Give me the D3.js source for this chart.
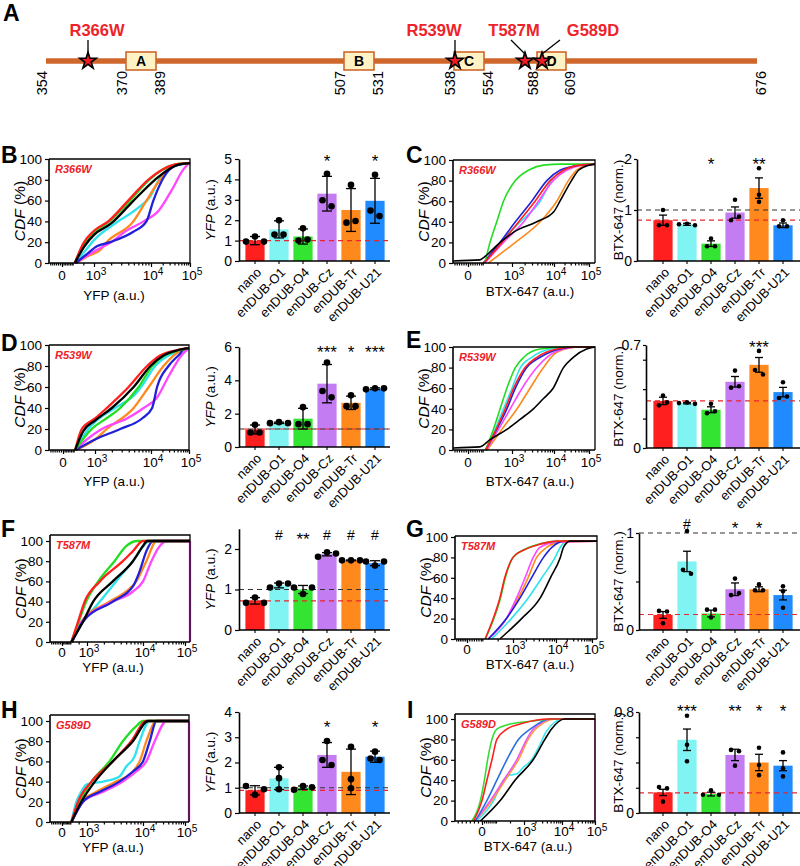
<!DOCTYPE html>
<html lang="en">
<head>
<meta charset="UTF-8">
<title>enDUB rescue of KCNQ1 LQT mutants</title>
<script src="https://d3js.org/d3.v7.min.js"></script>
<style>
  body { margin: 0; background: #fff; }
</style>
</head>
<body>
<svg id="fig" width="800" height="866"></svg>
<script>
  // ---------- data ----------
  var categories = ['nano', 'enDUB-O1', 'enDUB-O4', 'enDUB-Cz', 'enDUB-Tr', 'enDUB-U21'];
  var barColors = ['#ff1f1f', '#80f3f3', '#33e433', '#c47cf2', '#ff891c', '#1f8bff'];
  // CDF curve order: nano, O1, O4, Cz, Tr, U21, control
  var curveColors = ['#ff1f1f', '#2fe3ee', '#22dd22', '#ff47ff', '#ff891c', '#2020d8', '#000000'];
  var curveColorsI = ['#ff1f1f', '#3fe6ee', '#33dd33', '#ee55ee', '#ff9a3c', '#2a70e0', '#000000'];
  var drawOrder = [1, 4, 3, 5, 2, 0, 6];

  // panel A: KCNQ1 C-terminus schematic
  var chainEnds = [354, 676];
  var domainNames = ['A', 'B', 'C', 'D'];
  var domainStart = [370, 507, 538, 588];
  var domainEnd = [389, 531, 554, 609];
  var mutations = ['R366W', 'R539W', 'T587M', 'G589D'];
  var mutationSites = [366, 539, 587, 589];

  // CDF curves, x in decades (0 = zero, 3 = 10^3 ...), y in %
  var cdfB = [
    [[1.2,0],[2.0,19],[3.0,31],[3.25,40],[3.6,60],[3.95,80],[4.3,90],[4.66,95],[5,96]],
    [[1.2,0],[2.2,12],[3.0,22],[3.37,38],[3.75,52],[4.0,65],[4.2,80],[4.55,93],[5,96]],
    [[1.2,0],[2.0,17],[3.0,29],[3.27,40],[3.6,58],[3.95,79],[4.3,90],[4.66,95],[5,96]],
    [[1.3,0],[2.5,8],[3.1,14],[3.3,20],[3.54,30],[3.87,40],[4.19,50],[4.53,70],[4.83,90],[5,97]],
    [[1.3,0],[2.5,7],[3.1,12],[3.22,20],[3.69,40],[3.92,60],[4.23,80],[4.66,95],[5,96]],
    [[1.3,0],[2.5,10],[3.05,16],[3.28,20],[3.69,30],[3.92,40],[4.06,60],[4.32,82],[4.6,93],[5,96]],
    [[1.2,0],[2.1,16],[3.0,27],[3.3,38],[3.66,58],[4.1,80],[4.45,90],[4.75,95],[5,96]]
  ];
  var cdfD = [
    [[1.14,0],[1.76,20],[3,30],[3.21,40],[3.6,60],[3.93,80],[4.24,90],[4.67,95],[5,97]],
    [[1.14,0],[2.38,20],[3.15,33],[3.36,40],[3.75,55],[3.85,62],[4.11,80],[4.46,90],[4.8,95],[5,97]],
    [[1.14,0],[2.69,20],[3.2,30],[3.45,40],[3.78,60],[4.03,80],[4.35,90],[4.75,95],[5,97]],
    [[1.2,0],[2.23,10],[3.12,20],[3.57,30],[3.87,40],[4.16,50],[4.46,70],[4.8,90],[5,97]],
    [[1.2,0],[3,10],[3.21,20],[3.69,40],[3.96,60],[4.33,80],[4.8,95],[5,97]],
    [[1.2,0],[3,10],[3.45,20],[3.84,30],[4.03,40],[4.16,60],[4.46,80],[4.72,90],[4.93,97],[5,97]],
    [[1.14,0],[1.9,18],[3,28],[3.3,40],[3.69,60],[3.99,80],[4.33,90],[4.7,95],[5,97]]
  ];
  var cdfF = [
    [[1.12,0],[1.92,20],[2.72,40],[3.23,60],[3.64,80],[3.82,90],[4.0,100],[5.12,100]],
    [[1.12,0],[2.52,20],[3.23,40],[3.52,60],[3.82,80],[4.16,100],[5.12,100]],
    [[1.12,0],[1.92,18],[2.9,40],[3.2,60],[3.49,80],[3.7,95],[3.9,100],[5.12,100]],
    [[1.2,0],[2.32,20],[3.11,30],[3.46,40],[3.82,50],[4.0,60],[4.2,80],[4.4,95],[4.56,100],[5.12,100],[5.12,0]],
    [[1.2,0],[2.32,20],[3.4,40],[3.7,50],[3.88,60],[4.08,80],[4.32,100],[5.12,100]],
    [[1.2,0],[2.5,20],[3.46,40],[3.82,55],[3.94,70],[4.08,90],[4.24,100],[5.12,100]],
    [[1.12,0],[2.52,20],[3.11,40],[3.46,60],[3.82,80],[4.0,95],[4.1,100],[5.12,100]]
  ];
  var cdfH = [
    [[1.12,0],[1.92,20],[3.08,40],[3.46,60],[3.79,80],[4.08,100],[5.12,100]],
    [[1.12,0],[1.72,20],[2.32,30],[2.92,37],[3.29,40],[3.58,45],[3.7,55],[3.85,65],[3.94,80],[4.16,100],[5.12,100]],
    [[1.12,0],[2.12,20],[3.08,40],[3.4,60],[3.64,80],[3.88,95],[4.0,100],[5.12,100]],
    [[1.15,0],[2.52,20],[3.29,30],[3.64,40],[3.88,50],[4.08,60],[4.28,80],[4.56,100],[5.12,100],[5.12,0]],
    [[1.15,0],[2.32,20],[3.17,30],[3.52,40],[3.82,50],[3.94,60],[4.08,80],[4.32,100],[5.12,100]],
    [[1.15,0],[2.52,20],[3.23,30],[3.58,40],[3.82,50],[4.0,60],[4.16,80],[4.32,100],[5.12,100]],
    [[1.12,0],[2.32,20],[3.14,40],[3.46,60],[3.82,80],[4.12,100],[5.12,100]]
  ];
  var cdfC = [
    [[1.1,0],[2.31,20],[3.16,40],[3.55,60],[3.91,80],[4.27,90],[4.74,95],[5.17,96]],
    [[1.1,0],[2.19,20],[3.2,40],[3.67,60],[3.94,80],[4.27,90],[4.74,95],[5.17,96]],
    [[1.15,0],[1.5,20],[1.96,40],[2.42,60],[3.08,80],[3.39,90],[3.75,95],[4.2,96],[5.17,96]],
    [[1.15,0],[2.42,20],[3.28,40],[3.63,60],[3.98,80],[4.36,90],[4.8,95],[5.17,96]],
    [[1.38,0],[3.08,20],[3.67,40],[4.08,60],[4.41,80],[4.64,90],[4.93,95],[5.17,96]],
    [[1.04,0],[2.19,20],[3.08,40],[3.47,60],[3.83,80],[4.17,90],[4.74,95],[5.17,96]],
    [[-1,2],[0.81,3],[1.04,5],[2.19,20],[3.04,30],[3.59,40],[4.0,50],[4.17,60],[4.5,80],[4.7,90],[5.0,95],[5.17,96]]
  ];
  var cdfE = [
    [[1.2,0],[1.92,20],[2.54,40],[3.04,60],[3.31,80],[3.59,90],[4.08,98],[4.6,100],[5.17,100]],
    [[1.2,0],[1.85,20],[2.42,40],[3.0,60],[3.2,80],[3.47,90],[3.91,98],[4.5,100],[5.17,100]],
    [[1.2,0],[1.73,20],[2.19,40],[2.65,60],[3.08,80],[3.28,90],[3.67,98],[4.36,100],[5.17,100]],
    [[1.25,0],[2.08,20],[2.88,40],[3.24,60],[3.59,80],[3.83,90],[4.27,98],[4.7,100],[5.17,100]],
    [[1.3,0],[2.31,20],[3.12,40],[3.43,60],[3.75,80],[4.08,95],[4.74,100],[5.17,100]],
    [[1.2,0],[1.96,20],[2.65,40],[3.08,60],[3.35,80],[3.67,90],[4.17,98],[4.6,100],[5.17,100]],
    [[-1,2],[0.81,3],[1.5,10],[2.65,20],[3.2,30],[3.51,40],[3.75,50],[3.98,60],[4.27,80],[4.55,90],[4.93,98],[5.17,100]]
  ];
  var cdfG = [
    [[1.18,0],[1.71,20],[2.14,40],[2.46,60],[3.0,80],[3.24,87],[3.63,93],[4.03,96],[5.14,96]],
    [[1.61,0],[2.89,20],[3.35,40],[3.67,60],[3.98,80],[4.12,90],[4.3,96],[5.14,96]],
    [[1.2,0],[1.75,20],[2.18,40],[2.5,60],[3.0,80],[3.28,88],[3.7,94],[4.1,96],[5.14,96]],
    [[1.39,0],[2.57,20],[3.08,40],[3.28,60],[3.47,80],[3.63,90],[4.03,95],[5.14,96]],
    [[1.39,0],[2.57,20],[3.12,40],[3.35,60],[3.55,80],[3.79,90],[4.12,95],[5.14,96]],
    [[1.39,0],[2.57,20],[3.16,40],[3.43,60],[3.71,80],[3.91,90],[4.21,96],[5.14,96]],
    [[2.14,0],[3.2,20],[3.63,40],[3.87,60],[4.12,80],[4.21,90],[4.39,96],[5.14,96]]
  ];
  var cdfI = [
    [[-0.31,0],[0,20],[0.35,40],[0.71,60],[1.06,80],[1.77,90],[2.72,95],[3.68,100],[5,100]],
    [[-0.19,0],[0.83,20],[1.54,40],[2.0,45],[2.48,46],[2.9,52],[3.2,60],[3.42,75],[3.59,88],[4.03,100],[5,100]],
    [[-0.375,0],[-0.06,20],[0.17,40],[0.4,60],[0.71,80],[1.06,90],[2.0,95],[3.24,98],[3.77,100],[5,100]],
    [[-0.25,0],[0.59,20],[1.54,40],[2.48,60],[3.07,80],[3.24,90],[3.77,100],[5,100],[5,0]],
    [[-0.25,0],[0.71,20],[1.65,40],[2.6,60],[3.11,80],[3.3,90],[3.85,100],[5,100]],
    [[-0.25,0],[0.35,20],[1.06,40],[1.77,60],[2.6,80],[3.16,90],[3.68,100],[5,100]],
    [[-0.06,0],[1.3,20],[2.36,40],[3.24,60],[3.55,80],[3.72,90],[4.08,100],[5,100]]
  ];

  // bar charts: mean, error, replicate points, significance
  var meanB = [1.0, 1.55, 1.2, 3.3, 2.5, 2.95];
  var errB = [0.2, 0.42, 0.37, 0.85, 1.05, 1.1];
  var dotsB = [[0.95,1.2,0.95],[1.3,2.0,1.3],[1.0,1.6,1.05],[4.28,2.98,2.68],[1.88,3.73,1.96],[4.23,2.47,2.2]];
  var sigB = ['', '', '', '*', '', '*'];

  var meanD = [1.05, 1.45, 1.7, 3.8, 2.65, 3.5];
  var errD = [0.27, 0.04, 0.62, 1.15, 0.4, 0.05];
  var dotsD = [[0.87,1.33,0.87],[1.43,1.49,1.43],[1.37,2.39,1.37],[5.07,3.36,2.98],[2.45,3.1,2.45],[3.46,3.52,3.52]];
  var sigD = ['', '', '', '***', '*', '***'];

  var meanF = [0.72, 1.1, 1.0, 1.87, 1.72, 1.65];
  var errF = [0.08, 0.06, 0.1, 0.04, 0.01, 0.06];
  var dotsF = [[0.67,0.8,0.67],[1.05,1.15,1.15],[1.05,0.89,1.05],[1.81,1.92,1.89],[1.72,1.72,1.72],[1.69,1.59,1.69]];
  var sigF = ['', '#', '**', '#', '#', '#'];

  var meanH = [0.9, 1.37, 1.0, 2.3, 1.63, 2.23];
  var errH = [0.18, 0.44, 0.07, 0.49, 0.9, 0.22];
  var dotsH = [[1.07,0.72,0.94],[0.94,1.38,1.81],[0.92,1.07,1.02],[2.85,2.1,1.9],[2.62,1.34,0.98],[2.16,2.43,2.1]];
  var sigH = ['', '', '', '*', '', '*'];

  var meanC = [0.8, 0.72, 0.34, 0.95, 1.43, 0.7];
  var errC = [0.1, 0.02, 0.055, 0.11, 0.2, 0.045];
  var dotsC = [[0.7,1.0,0.7],[0.72,0.73,0.7],[0.29,0.44,0.29],[0.8,1.2,0.87],[1.82,1.3,1.16],[0.68,0.8,0.68]];
  var sigC = ['', '', '*', '', '**', ''];

  var meanE = [0.32, 0.305, 0.26, 0.45, 0.565, 0.38];
  var errE = [0.025, 0.005, 0.02, 0.036, 0.05, 0.032];
  var dotsE = [[0.357,0.29,0.31],[0.305,0.31,0.30],[0.237,0.30,0.25],[0.41,0.526,0.42],[0.66,0.53,0.50],[0.34,0.447,0.35]];
  var sigE = ['', '', '', '', '***', ''];

  var meanG = [0.155, 0.707, 0.17, 0.42, 0.42, 0.36];
  var errG = [0.035, 0.105, 0.035, 0.065, 0.025, 0.05];
  var dotsG = [[0.197,0.07,0.19],[1.02,0.62,0.58],[0.21,0.13,0.21],[0.36,0.53,0.38],[0.41,0.47,0.41],[0.45,0.40,0.23]];
  var sigG = ['', '#', '', '*', '*', ''];

  var meanI = [0.163, 0.58, 0.15, 0.46, 0.40, 0.375];
  var errI = [0.025, 0.085, 0.015, 0.045, 0.065, 0.04];
  var dotsI = [[0.205,0.09,0.195],[0.77,0.54,0.41],[0.145,0.18,0.145],[0.5,0.375,0.49],[0.517,0.38,0.30],[0.48,0.354,0.29]];
  var sigI = ['', '***', '', '**', '*', '*'];

  // dashed reference levels (control = black, nano = red)
  var ctrlLevel = {B: null, D: 1.08, F: 1.0, H: 1.0, C: 1.0, E: null, G: 1.0, I: null};
  var nanoLevel = {B: 1.0, D: 1.08, F: 0.72, H: 0.9, C: 0.8, E: 0.32, G: 0.16, I: 0.16};

  // ---------- drawing ----------
  var FONT = '"Liberation Sans", Arial, Helvetica, sans-serif';
  var svg = d3.select('#fig').attr('font-family', FONT);

  function styleAxis(g, size) {
    g.attr('font-family', FONT).attr('font-size', size);
    g.select('.domain').attr('stroke-width', 1.6);
    g.selectAll('.tick line').attr('stroke-width', 1.2);
    g.selectAll('.tick text').attr('fill', '#000');
  }

  function panelLetter(t, x, y) {
    svg.append('text').attr('x', x).attr('y', y)
      .attr('font-size', 23).attr('font-weight', 'bold').text(t);
  }

  // --- panel A ---
  var resX = d3.scaleLinear()
    .domain([354, 366, 370, 389, 507, 531, 538, 539, 554, 587, 588, 589, 609, 676])
    .range([46, 88, 126, 156, 344, 374, 454, 455, 484, 525, 537, 542, 566, 757]);
  var gA = svg.append('g');
  var rust = '#cf672c';
  gA.append('line')
    .attr('x1', resX(chainEnds[0])).attr('x2', resX(chainEnds[1]))
    .attr('y1', 61).attr('y2', 61)
    .attr('stroke', rust).attr('stroke-width', 5.5);
  domainNames.forEach(function (n, i) {
    var x0 = resX(domainStart[i]), x1 = resX(domainEnd[i]);
    gA.append('rect').attr('x', x0).attr('y', 52).attr('width', x1 - x0).attr('height', 18)
      .attr('fill', '#fff3c6').attr('stroke', rust).attr('stroke-width', 1.6);
    gA.append('text').attr('x', (x0 + x1) / 2).attr('y', 61).attr('dy', '0.36em')
      .attr('text-anchor', 'middle').attr('font-size', 14).attr('font-weight', 'bold').text(n);
  });
  var labelDx = [9, -21, -11, 51];
  var tipDx = [0, 0, -14, 18];
  var star = d3.symbol().type(d3.symbolStar).size(85);
  mutations.forEach(function (m, i) {
    var sx = resX(mutationSites[i]);
    gA.append('line').attr('x1', sx + tipDx[i]).attr('y1', 40).attr('x2', sx).attr('y2', 54)
      .attr('stroke', '#000').attr('stroke-width', 1.3);
    gA.append('path').attr('d', star).attr('transform', 'translate(' + sx + ',61)')
      .attr('fill', '#ee1c24').attr('stroke', '#000').attr('stroke-width', 1.6);
    gA.append('text').attr('x', sx + labelDx[i]).attr('y', 36).attr('text-anchor', 'middle')
      .attr('font-size', 16.5).attr('font-weight', 'bold').attr('fill', '#ee2229').text(m);
  });
  var tickRes = chainEnds.concat(domainStart, domainEnd).sort(d3.ascending);
  tickRes.forEach(function (r) {
    var isStart = r === chainEnds[0] || domainStart.indexOf(r) >= 0;
    var lx = resX(r) + (isStart ? -4 : 4);
    gA.append('text').attr('transform', 'translate(' + lx + ',71) rotate(-90)')
      .attr('dy', '0.36em').attr('text-anchor', 'end').attr('font-size', 14.5).text(r);
  });
  panelLetter('A', 3, 21);

  // --- CDF panels ---
  function drawCdf(L, curves, colors, mutation, xTitle) {
    var x = d3.scaleLinear().domain(L.xu).range(L.xp).clamp(true);
    var y = d3.scaleLinear().domain([0, 100]).range([L.y0, L.y100]);
    var left = L.xp[0], right = L.xp[L.xp.length - 1];
    var g = svg.append('g');
    var line = d3.line().x(function (d) { return x(d[0]); }).y(function (d) { return y(d[1]); })
      .curve(d3.curveMonotoneX);
    var straight = d3.line().x(function (d) { return x(d[0]); }).y(function (d) { return y(d[1]); });

    drawOrder.forEach(function (i) {
      var pts = curves[i], n = pts.length, tail = null;
      if (pts[n - 1][0] === pts[n - 2][0]) { tail = pts.slice(n - 2); pts = pts.slice(0, n - 1); }
      g.append('path').datum(pts).attr('d', line).attr('fill', 'none')
        .attr('stroke', colors[i]).attr('stroke-width', L.lw).attr('stroke-linejoin', 'round');
      if (tail) {
        g.append('path').datum(tail).attr('d', straight).attr('fill', 'none')
          .attr('stroke', colors[i]).attr('stroke-width', L.lw);
      }
    });

    // frame
    g.append('path')
      .attr('d', 'M' + left + ',' + L.top + 'H' + right + 'V' + L.y0)
      .attr('fill', 'none').attr('stroke', '#000').attr('stroke-width', 1.3);

    g.append('g').attr('transform', 'translate(' + left + ',0)')
      .call(d3.axisLeft(y).tickValues([0, 20, 40, 60, 80, 100]).tickSize(4).tickSizeOuter(0).tickPadding(3))
      .call(styleAxis, 13.5)
      .select('.domain').attr('d', 'M0,' + L.y0 + 'V' + L.top);

    var minor = [];
    for (var u = -0.9; u <= 0.95; u += 0.15) minor.push(u);
    [1, 2].forEach(function (d) { minor.push(d); });
    [3, 4].forEach(function (d) {
      for (var k = 2; k <= 9; k++) minor.push(d + Math.log10(k));
    });
    var gx = g.append('g').attr('transform', 'translate(0,' + L.y0 + ')');
    gx.append('g')
      .call(d3.axisBottom(x).tickValues(minor).tickSize(2.5).tickSizeOuter(0).tickFormat(''))
      .call(styleAxis, 13).select('.domain').remove();
    gx.append('g')
      .call(d3.axisBottom(x).tickValues([0, 3, 4, 5]).tickSize(4).tickSizeOuter(0).tickFormat(''))
      .call(styleAxis, 13)
      .select('.domain').attr('d', 'M' + left + ',0H' + right);

    [0, 3, 4, 5].forEach(function (v) {
      var t = g.append('text').attr('x', x(v) + (v ? 2 : 0)).attr('y', L.y0 + L.tickDy)
        .attr('text-anchor', 'middle').attr('font-size', 13.5);
      if (v === 0) { t.text('0'); return; }
      t.append('tspan').text('10');
      t.append('tspan').attr('dy', '-0.45em').attr('font-size', '0.75em').text(v);
    });

    g.append('text').attr('x', L.titleX).attr('y', L.y0 + L.titleDy)
      .attr('text-anchor', 'middle').attr('font-size', 13.5).text(xTitle);

    var yt = g.append('text')
      .attr('transform', 'translate(' + (left - 30) + ',' + ((L.y0 + L.top) / 2) + ') rotate(-90)')
      .attr('text-anchor', 'middle').attr('dy', '0.36em').attr('font-size', 15.5);
    yt.append('tspan').attr('font-style', 'italic').text('CDF');
    yt.append('tspan').text(' (%)');

    g.append('text').attr('x', left + 6).attr('y', L.top + 14)
      .attr('font-size', 11).attr('font-weight', 'bold').attr('font-style', 'italic')
      .attr('fill', '#ee2229').text(mutation);
  }

  // --- bar panels ---
  function spread(vals, y, r, s) {
    // fan out replicate points that would touch, like a small beeswarm
    var idx = vals.map(function (v, i) { return i; }).sort(function (a, b) { return vals[a] - vals[b]; });
    var groups = [], cur = [idx[0]];
    for (var k = 1; k < idx.length; k++) {
      if (Math.abs(y(vals[idx[k]]) - y(vals[idx[k - 1]])) < 2 * r) cur.push(idx[k]);
      else { groups.push(cur); cur = [idx[k]]; }
    }
    groups.push(cur);
    var off = vals.map(function () { return 0; });
    groups.forEach(function (gp) {
      gp.sort(d3.ascending).forEach(function (i, j) { off[i] = (j - (gp.length - 1) / 2) * s; });
    });
    return off;
  }

  function drawBars(L, mean, err, dots, sig, ctrl, nano, titleItalic, titleRest) {
    var x = d3.scalePoint().domain(categories).range([L.x0, L.x1]);
    var y = d3.scaleLinear().domain([0, L.yMax]).range(L.yr);
    var bw = x.step() * 0.8;
    var g = svg.append('g');

    g.selectAll('rect').data(mean).join('rect')
      .attr('x', function (d, i) { return x(categories[i]) - bw / 2; })
      .attr('y', function (d) { return y(d); })
      .attr('width', bw)
      .attr('height', function (d) { return y(0) - y(d); })
      .attr('fill', function (d, i) { return barColors[i]; });

    if (ctrl !== null) {
      g.append('line').attr('x1', L.axisX).attr('x2', L.right).attr('y1', y(ctrl)).attr('y2', y(ctrl))
        .attr('stroke', '#333').attr('stroke-width', 1.2).attr('stroke-dasharray', '5,4');
    }
    if (nano !== null) {
      g.append('line').attr('x1', L.axisX).attr('x2', L.right).attr('y1', y(nano)).attr('y2', y(nano))
        .attr('stroke', '#e8262b').attr('stroke-width', 1.2).attr('stroke-dasharray', '5,4')
        .attr('stroke-dashoffset', ctrl === nano ? 4.5 : 0);
    }

    mean.forEach(function (m, i) {
      var cx = x(categories[i]), e = err[i], hc = L.cap / 2;
      var eg = g.append('g').attr('stroke', '#000').attr('stroke-width', 1.3);
      eg.append('line').attr('x1', cx).attr('x2', cx).attr('y1', y(m - e)).attr('y2', y(m + e));
      eg.append('line').attr('x1', cx - hc).attr('x2', cx + hc).attr('y1', y(m + e)).attr('y2', y(m + e));
      eg.append('line').attr('x1', cx - hc).attr('x2', cx + hc).attr('y1', y(m - e)).attr('y2', y(m - e));
      var off = spread(dots[i], y, L.r, L.spread);
      dots[i].forEach(function (v, j) {
        g.append('circle').attr('cx', cx + off[j]).attr('cy', y(v)).attr('r', L.r).attr('fill', '#000');
      });
      if (sig[i]) {
        g.append('text').attr('x', cx).attr('y', y(L.sigAt))
          .attr('dy', sig[i].charAt(0) === '#' ? '0.36em' : '0.6em')
          .attr('text-anchor', 'middle').attr('font-size', sig[i].charAt(0) === '#' ? 14 : 17)
          .text(sig[i]);
      }
    });

    g.append('g').attr('transform', 'translate(' + L.axisX + ',0)')
      .call(d3.axisLeft(y).tickValues(L.ticks).tickSize(L.tick).tickSizeOuter(0).tickPadding(L.pad)
        .tickFormat(function (v) { return L.labels.indexOf(v) >= 0 ? d3.format('~g')(v) : ''; }))
      .call(styleAxis, 14);

    var xa = g.append('g');
    xa.append('line').attr('x1', L.axisX).attr('x2', L.right).attr('y1', y(0)).attr('y2', y(0))
      .attr('stroke', '#000').attr('stroke-width', 1.6);
    categories.forEach(function (c) {
      xa.append('line').attr('x1', x(c)).attr('x2', x(c)).attr('y1', y(0)).attr('y2', y(0) + 3)
        .attr('stroke', '#000').attr('stroke-width', 1.1);
      xa.append('text')
        .attr('transform', 'translate(' + (x(c) + 4) + ',' + (y(0) + 9) + ') rotate(-45)')
        .attr('text-anchor', 'end').attr('dy', '0.35em').attr('font-size', 13).text(c);
    });

    var mid = (L.yr[0] + L.yr[1]) / 2;
    var t = g.append('text').attr('transform', 'translate(' + L.titleX + ',' + mid + ') rotate(-90)')
      .attr('text-anchor', 'middle').attr('dy', '0.36em').attr('font-size', 13.5);
    if (titleItalic) t.append('tspan').attr('font-style', 'italic').text(titleItalic);
    t.append('tspan').text(titleRest);
  }

  // layouts
  var leftBar = {axisX: 239, x0: 255, x1: 375, right: 390, cap: 10, r: 3.3, spread: 9, titleX: 210, tick: 4, pad: 3};
  var rightBar = {axisX: 637, x0: 663, x1: 783, right: 800, cap: 8, r: 2.3, spread: 8, titleX: 618, tick: 3, pad: 2};
  function lay(base, extra) { return Object.assign({}, base, extra); }

  var xLeftA = {xu: [-1, 0, 3, 4, 5], xp: [49, 62, 94, 151, 190], titleX: 114, lw: 2.3, tickDy: 17};
  var xLeftB = {xu: [-1, 0, 3, 4, 5, 5.12], xp: [50, 62, 87, 143, 185, 190], titleX: 113, lw: 2.3, tickDy: 15};
  var xRightA = {xu: [-1, 0, 3, 4, 5, 5.17], xp: [453, 468, 512, 554, 589, 595], titleX: 530, lw: 1.6, tickDy: 17};

  drawCdf(lay(xLeftA, {top: 159, y100: 159, y0: 263, titleDy: 37}), cdfB, curveColors, 'R366W', 'YFP (a.u.)');
  drawCdf(lay(xLeftA, {xp: [49, 63, 95, 151, 189], top: 345, y100: 345, y0: 450, titleDy: 36}), cdfD, curveColors, 'R539W', 'YFP (a.u.)');
  drawCdf(lay(xLeftB, {top: 535, y100: 541, y0: 642, titleDy: 30}), cdfF, curveColors, 'T587M', 'YFP (a.u.)');
  drawCdf(lay(xLeftB, {xp: [50, 62, 87, 143, 185, 189], top: 715, y100: 721, y0: 822, titleDy: 30}), cdfH, curveColors, 'G589D', 'YFP (a.u.)');
  drawCdf(lay(xRightA, {top: 160, y100: 160, y0: 263, titleDy: 33}), cdfC, curveColors, 'R366W', 'BTX-647 (a.u.)');
  drawCdf(lay(xRightA, {top: 347, y100: 347, y0: 450, titleDy: 36}), cdfE, curveColors, 'R539W', 'BTX-647 (a.u.)');
  drawCdf(lay(xRightA, {xu: [-1, 0, 3, 4, 5, 5.14], xp: [455, 467, 513, 556, 592, 597], top: 536, y100: 537, y0: 639, titleDy: 30, tickDy: 15}), cdfG, curveColors, 'T587M', 'BTX-647 (a.u.)');
  drawCdf(lay(xRightA, {xu: [-1, 0, 3, 4, 5], xp: [455, 482, 524, 562, 595], top: 714, y100: 719, y0: 821, titleDy: 30, tickDy: 15, titleX: 528}), cdfI, curveColorsI, 'G589D', 'BTX-647 (a.u.)');

  drawBars(lay(leftBar, {yMax: 5, yr: [261, 159], ticks: [0, 1, 2, 3, 4, 5], labels: [0, 1, 2, 3, 4, 5], sigAt: 5.1}),
    meanB, errB, dotsB, sigB, ctrlLevel.B, nanoLevel.B, 'YFP', ' (a.u.)');
  drawBars(lay(leftBar, {yMax: 6, yr: [447, 347], ticks: [0, 2, 4, 6], labels: [0, 2, 4, 6], sigAt: 5.94}),
    meanD, errD, dotsD, sigD, ctrlLevel.D, nanoLevel.D, 'YFP', ' (a.u.)');
  drawBars(lay(leftBar, {yMax: 2.5, yr: [630, 528.75], ticks: [0, 1, 2], labels: [0, 1, 2], sigAt: 2.35}),
    meanF, errF, dotsF, sigF, ctrlLevel.F, nanoLevel.F, 'YFP', ' (a.u.)');
  drawBars(lay(leftBar, {yMax: 4, yr: [813, 712], ticks: [0, 1, 2, 3, 4], labels: [0, 1, 2, 3, 4], sigAt: 3.56}),
    meanH, errH, dotsH, sigH, ctrlLevel.H, nanoLevel.H, 'YFP', ' (a.u.)');

  drawBars(lay(rightBar, {yMax: 2, yr: [261, 159], ticks: [0, 1, 2], labels: [0, 1, 2], sigAt: 1.98}),
    meanC, errC, dotsC, sigC, ctrlLevel.C, nanoLevel.C, null, 'BTX-647 (norm.)');
  drawBars(lay(rightBar, {axisX: 646, yMax: 0.7, yr: [448, 345], ticks: [0, 0.2, 0.4, 0.6, 0.7], labels: [0, 0.7], sigAt: 0.715}),
    meanE, errE, dotsE, sigE, ctrlLevel.E, nanoLevel.E, null, 'BTX-647 (norm.)');
  drawBars(lay(rightBar, {axisX: 639, yMax: 1, yr: [630, 533], ticks: [0, 0.5, 1], labels: [0, 1], sigAt: 1.09}),
    meanG, errG, dotsG, sigG, ctrlLevel.G, nanoLevel.G, null, 'BTX-647 (norm.)');
  drawBars(lay(rightBar, {axisX: 639, yMax: 0.8, yr: [813, 712], ticks: [0, 0.2, 0.4, 0.6, 0.8], labels: [0, 0.8], sigAt: 0.84}),
    meanI, errI, dotsI, sigI, ctrlLevel.I, nanoLevel.I, null, 'BTX-647 (norm.)');

  panelLetter('B', 1, 163);
  panelLetter('C', 406, 163);
  panelLetter('D', 1, 351);
  panelLetter('E', 406, 348);
  panelLetter('F', 1, 537);
  panelLetter('G', 406, 537);
  panelLetter('H', 1, 718);
  panelLetter('I', 407, 718);
</script>
</body>
</html>
